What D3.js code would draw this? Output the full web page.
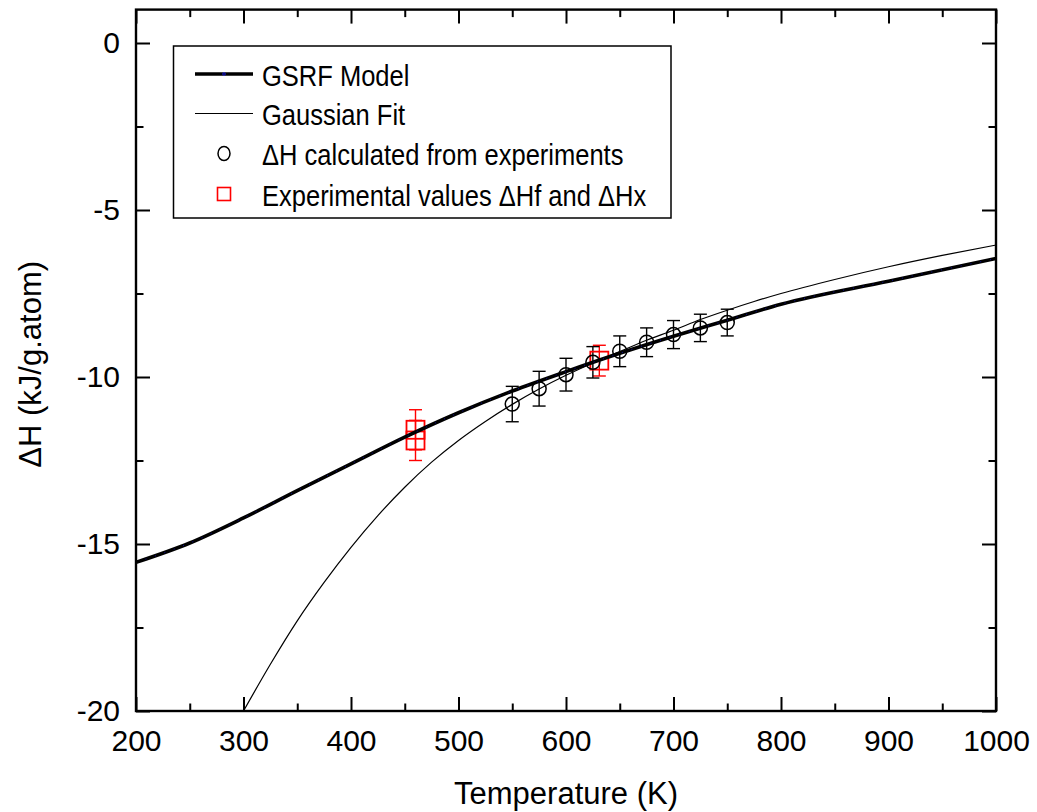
<!DOCTYPE html>
<html>
<head>
<meta charset="utf-8">
<script src="https://cdn.jsdelivr.net/npm/d3@7"></script>
<style>
  body { margin: 0; background: #fff; }
  svg { display: block; font-family: "Liberation Sans", Arial, sans-serif; }
</style>
</head>
<body>
<div id="chart"></div>
<script>
// GSRF model curve (K, kJ/g.atom)
const gsrfTemp = [200, 250, 300, 350, 400, 450, 500, 550, 600, 650, 700, 750, 800, 900, 1000];
const gsrfDH = [-15.55, -14.97, -14.22, -13.4, -12.6, -11.8, -11.07, -10.42, -9.84, -9.29, -8.78, -8.3, -7.82, -7.13, -6.45];

// Gaussian fit curve
const gaussTemp = [300, 325, 350, 375, 400, 425, 450, 475, 500, 525, 550, 575, 600, 625, 650, 675, 700, 725, 750, 775, 800, 850, 900, 950, 1000];
const gaussDH = [-20.0, -18.6, -17.3, -16.15, -15.1, -14.15, -13.3, -12.55, -11.9, -11.33, -10.82, -10.36, -9.95, -9.58, -9.24, -8.9, -8.6, -8.28, -8.0, -7.74, -7.5, -7.08, -6.7, -6.36, -6.05];

// dH calculated from experiments
const calcTemp = [550, 575, 600, 625, 650, 675, 700, 725, 750];
const calcDH = [-10.81, -10.35, -9.93, -9.56, -9.23, -8.96, -8.73, -8.53, -8.37];
const calcErr = [0.53, 0.52, 0.49, 0.47, 0.46, 0.43, 0.42, 0.41, 0.4];

// experimental dHf and dHx
const refTemp = [460, 460, 631];
const refDH = [-11.58, -11.9, -9.51];
const refErr = [0.6, 0.6, 0.46];

const xTicks = [200, 300, 400, 500, 600, 700, 800, 900, 1000];
const yTicks = [0, -5, -10, -15, -20];

const width = 1037, height = 812;
const x0 = 136, x1 = 996, yTop = 9.6, yBot = 711;

const svg = d3.select("#chart").append("svg")
  .attr("width", width)
  .attr("height", height);

const x = d3.scaleLinear().domain([200, 1000]).range([x0, x1]);
const y = d3.scaleLinear().domain([-20, 1]).range([yBot, yTop]);

svg.append("defs").append("clipPath").attr("id", "plotClip")
  .append("rect")
  .attr("x", x0).attr("y", yTop)
  .attr("width", x1 - x0).attr("height", yBot - yTop);

const minorX = d3.range(250, 1000, 100);
const minorY = [-2.5, -7.5, -12.5, -17.5];

// axes with inward ticks on all four sides
function styleAxis(g) {
  g.select(".domain").remove();
  g.selectAll("line").attr("stroke", "#000").attr("stroke-width", 2);
  g.selectAll("text")
    .style("font-size", "30px")
    .style("font-family", "'Liberation Sans', Arial, sans-serif")
    .attr("fill", "#000");
}

svg.append("g").attr("transform", `translate(0,${yBot})`)
  .call(d3.axisBottom(x).tickValues(xTicks).tickSize(-14).tickPadding(19).tickFormat(d3.format("d")))
  .call(styleAxis);
svg.append("g").attr("transform", `translate(0,${yBot})`)
  .call(d3.axisBottom(x).tickValues(minorX).tickSize(-7.5).tickFormat(""))
  .call(styleAxis);
svg.append("g").attr("transform", `translate(0,${yTop})`)
  .call(d3.axisTop(x).tickValues(xTicks).tickSize(-14).tickFormat(""))
  .call(styleAxis);
svg.append("g").attr("transform", `translate(0,${yTop})`)
  .call(d3.axisTop(x).tickValues(minorX).tickSize(-7.5).tickFormat(""))
  .call(styleAxis);

svg.append("g").attr("transform", `translate(${x0},0)`)
  .call(d3.axisLeft(y).tickValues(yTicks).tickSize(-14).tickPadding(16).tickFormat(d => d3.format("d")(d).replace("−", "-")))
  .call(styleAxis);
svg.append("g").attr("transform", `translate(${x0},0)`)
  .call(d3.axisLeft(y).tickValues(minorY).tickSize(-7.5).tickFormat(""))
  .call(styleAxis);
svg.append("g").attr("transform", `translate(${x1},0)`)
  .call(d3.axisRight(y).tickValues(yTicks).tickSize(-14).tickFormat(""))
  .call(styleAxis);
svg.append("g").attr("transform", `translate(${x1},0)`)
  .call(d3.axisRight(y).tickValues(minorY).tickSize(-7.5).tickFormat(""))
  .call(styleAxis);

// axis titles
svg.append("text")
  .attr("x", (x0 + x1) / 2)
  .attr("y", 804)
  .attr("text-anchor", "middle")
  .style("font-size", "31px")
  .text("Temperature (K)");

svg.append("text")
  .attr("transform", `translate(41,${(yTop + yBot) / 2 + 4}) rotate(-90)`)
  .attr("text-anchor", "middle")
  .style("font-size", "31px")
  .text("\u0394H (kJ/g.atom)");

const plot = svg.append("g").attr("clip-path", "url(#plotClip)");

// experimental points with error bars
function errorBars(temps, vals, errs, color) {
  const g = plot.append("g").attr("stroke", color).attr("stroke-width", 1.4).attr("fill", "none");
  temps.forEach((t, i) => {
    const cx = x(t), top = y(vals[i] + errs[i]), bot = y(vals[i] - errs[i]);
    g.append("line").attr("x1", cx).attr("x2", cx).attr("y1", top).attr("y2", bot);
    g.append("line").attr("x1", cx - 6.5).attr("x2", cx + 6.5).attr("y1", top).attr("y2", top);
    g.append("line").attr("x1", cx - 6.5).attr("x2", cx + 6.5).attr("y1", bot).attr("y2", bot);
  });
}

errorBars(refTemp, refDH, refErr, "#ff0000");
errorBars(calcTemp, calcDH, calcErr, "#000");

plot.append("g").selectAll("rect")
  .data(refTemp)
  .enter().append("rect")
  .attr("x", d => x(d) - 9)
  .attr("y", (d, i) => y(refDH[i]) - 9)
  .attr("width", 18)
  .attr("height", 18)
  .attr("fill", "none")
  .attr("stroke", "#ff0000")
  .attr("stroke-width", 1.8);

plot.append("g").selectAll("circle")
  .data(calcTemp)
  .enter().append("circle")
  .attr("cx", d => x(d))
  .attr("cy", (d, i) => y(calcDH[i]))
  .attr("r", 7)
  .attr("fill", "none")
  .attr("stroke", "#000")
  .attr("stroke-width", 1.5);

// curves
const line = d3.line().x(d => x(d[0])).y(d => y(d[1]));
const smoothLine = d3.line().x(d => x(d[0])).y(d => y(d[1])).curve(d3.curveMonotoneX);

plot.append("path")
  .datum(gaussTemp.map((t, i) => [t, gaussDH[i]]))
  .attr("d", smoothLine)
  .attr("fill", "none")
  .attr("stroke", "#000")
  .attr("stroke-width", 1.2);

const gsrfPts = gsrfTemp.map((t, i) => [t, gsrfDH[i]]);

plot.append("path")
  .datum(gsrfPts)
  .attr("d", smoothLine)
  .attr("fill", "none")
  .attr("stroke", "#000")
  .attr("stroke-width", 3.6);

plot.append("path")
  .datum(gsrfPts)
  .attr("d", smoothLine)
  .attr("fill", "none")
  .attr("stroke", "#1a1aff")
  .attr("stroke-width", 1)
  .attr("stroke-dasharray", "1,9")
  .attr("opacity", 0.6);

// frame
svg.append("rect")
  .attr("x", x0).attr("y", yTop)
  .attr("width", x1 - x0).attr("height", yBot - yTop)
  .attr("fill", "none")
  .attr("stroke", "#000")
  .attr("stroke-width", 2.4);

// legend
const legend = svg.append("g");
legend.append("rect")
  .attr("x", 173.5).attr("y", 46)
  .attr("width", 497.5).attr("height", 172)
  .attr("fill", "#fff")
  .attr("stroke", "#000")
  .attr("stroke-width", 1.5);

const legendLabels = ["GSRF Model", "Gaussian Fit", "\u0394H calculated from experiments", "Experimental values \u0394Hf and \u0394Hx"];
const legendY = [74, 113.5, 153.5, 194];

legend.append("line")
  .attr("x1", 195).attr("x2", 253).attr("y1", legendY[0]).attr("y2", legendY[0])
  .attr("stroke", "#000").attr("stroke-width", 3.6);
legend.append("circle")
  .attr("cx", 224).attr("cy", legendY[0]).attr("r", 1.3)
  .attr("fill", "none").attr("stroke", "#1a1aff").attr("stroke-width", 0.8);
legend.append("line")
  .attr("x1", 195).attr("x2", 253).attr("y1", legendY[1]).attr("y2", legendY[1])
  .attr("stroke", "#000").attr("stroke-width", 1.2);
legend.append("ellipse")
  .attr("cx", 224).attr("cy", legendY[2]).attr("rx", 6).attr("ry", 7)
  .attr("fill", "none").attr("stroke", "#000").attr("stroke-width", 1.5);
legend.append("rect")
  .attr("x", 224 - 6.5).attr("y", legendY[3] - 6.5).attr("width", 13).attr("height", 13)
  .attr("fill", "none").attr("stroke", "#ff0000").attr("stroke-width", 1.6);

legend.selectAll("text.label")
  .data(legendLabels)
  .enter().append("text")
  .attr("class", "label")
  .attr("transform", (d, i) => `translate(262,${legendY[i] + 11.7}) scale(0.88,1)`)
  .style("font-size", "29px")
  .attr("fill", "#000")
  .text(d => d);
</script>
</body>
</html>
